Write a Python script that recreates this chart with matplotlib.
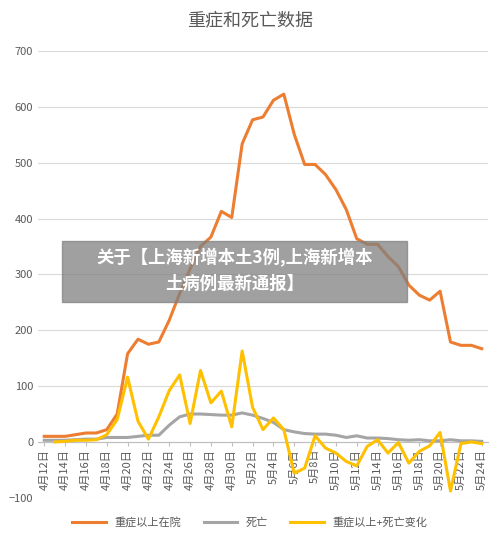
import matplotlib
matplotlib.use("Agg")
import matplotlib.pyplot as plt
plt.rcParams['font.family'] = ['Noto Sans CJK SC', 'DejaVu Sans']

dates = [f"4月{d}日" for d in range(12, 31)] + [f"5月{d}日" for d in range(1, 25)]
severe = [10,10,10,13,16,16,22,50,158,184,175,179,218,266,310,350,367,413,402,534,577,582,612,623,
          551,497,497,479,452,416,364,354,354,332,314,281,263,254,270,179,173,173,167]
deaths = [3,3,3,4,5,5,8,8,8,10,12,12,30,45,50,50,49,48,48,52,48,42,35,22,
          18,15,14,14,12,8,11,7,7,6,4,3,4,2,2,4,2,2,1]
change = [None,0,1,3,3,4,13,40,116,37,5,45,92,120,33,128,70,91,27,163,62,22,43,22,
          -56,-47,11,-11,-20,-35,-43,-8,4,-20,-1,-38,-17,-7,17,-88,-3,0,-3]

fig = plt.figure(figsize=(5, 5.44), dpi=100)
ax = fig.add_axes([0.076, 0.085, 0.9, 0.821])
x = list(range(len(dates)))
ax.plot(x, severe, color='#ED7D31', lw=2.2, label='重症以上在院', zorder=3)
ax.plot(x, deaths, color='#A5A5A5', lw=2.2, label='死亡', zorder=3)
xc = [i for i, v in zip(x, change) if v is not None]
yc = [v for v in change if v is not None]
ax.plot(xc, yc, color='#FFC000', lw=2.2, label='重症以上+死亡变化', zorder=4)
for s in ['top', 'right', 'left']:
    ax.spines[s].set_visible(False)
ax.spines['bottom'].set_position(('data', 0))
ax.spines['bottom'].set_color('#BFBFBF')
ax.set_ylim(-100, 700)
ax.set_xlim(-0.6, len(dates) - 0.4)
ax.set_yticks(range(-100, 701, 100))
ax.set_xticks(x[::2])
ax.set_xticklabels(dates[::2], fontsize=8, color='#595959')
ax.tick_params(axis='y', labelsize=8, labelcolor='#595959', length=0)
ax.tick_params(axis='x', length=3, color='#BFBFBF', pad=2, labelrotation=90)
ax.grid(axis='y', color='#D9D9D9', lw=0.8)
ax.set_axisbelow(True)
fig.text(0.5, 0.962, '重症和死亡数据', ha='center', va='center', fontsize=13, color='#595959')
fig.legend(loc='center', bbox_to_anchor=(0.5, 0.04), ncol=3, frameon=False, fontsize=8,
           handlelength=3, labelcolor='#595959')
fig.patches.append(plt.Rectangle((0.124, 0.444), 0.69, 0.113, transform=fig.transFigure,
                                 color='#808080', alpha=0.75, zorder=10))
fig.text(0.47, 0.527, '关于【上海新增本土3例,上海新增本', ha='center', va='center', fontsize=12.5,
         color='white', fontweight='bold', zorder=11)
fig.text(0.47, 0.479, '土病例最新通报】', ha='center', va='center', fontsize=12.5,
         color='white', fontweight='bold', zorder=11)
fig.savefig('out.png', dpi=100)
